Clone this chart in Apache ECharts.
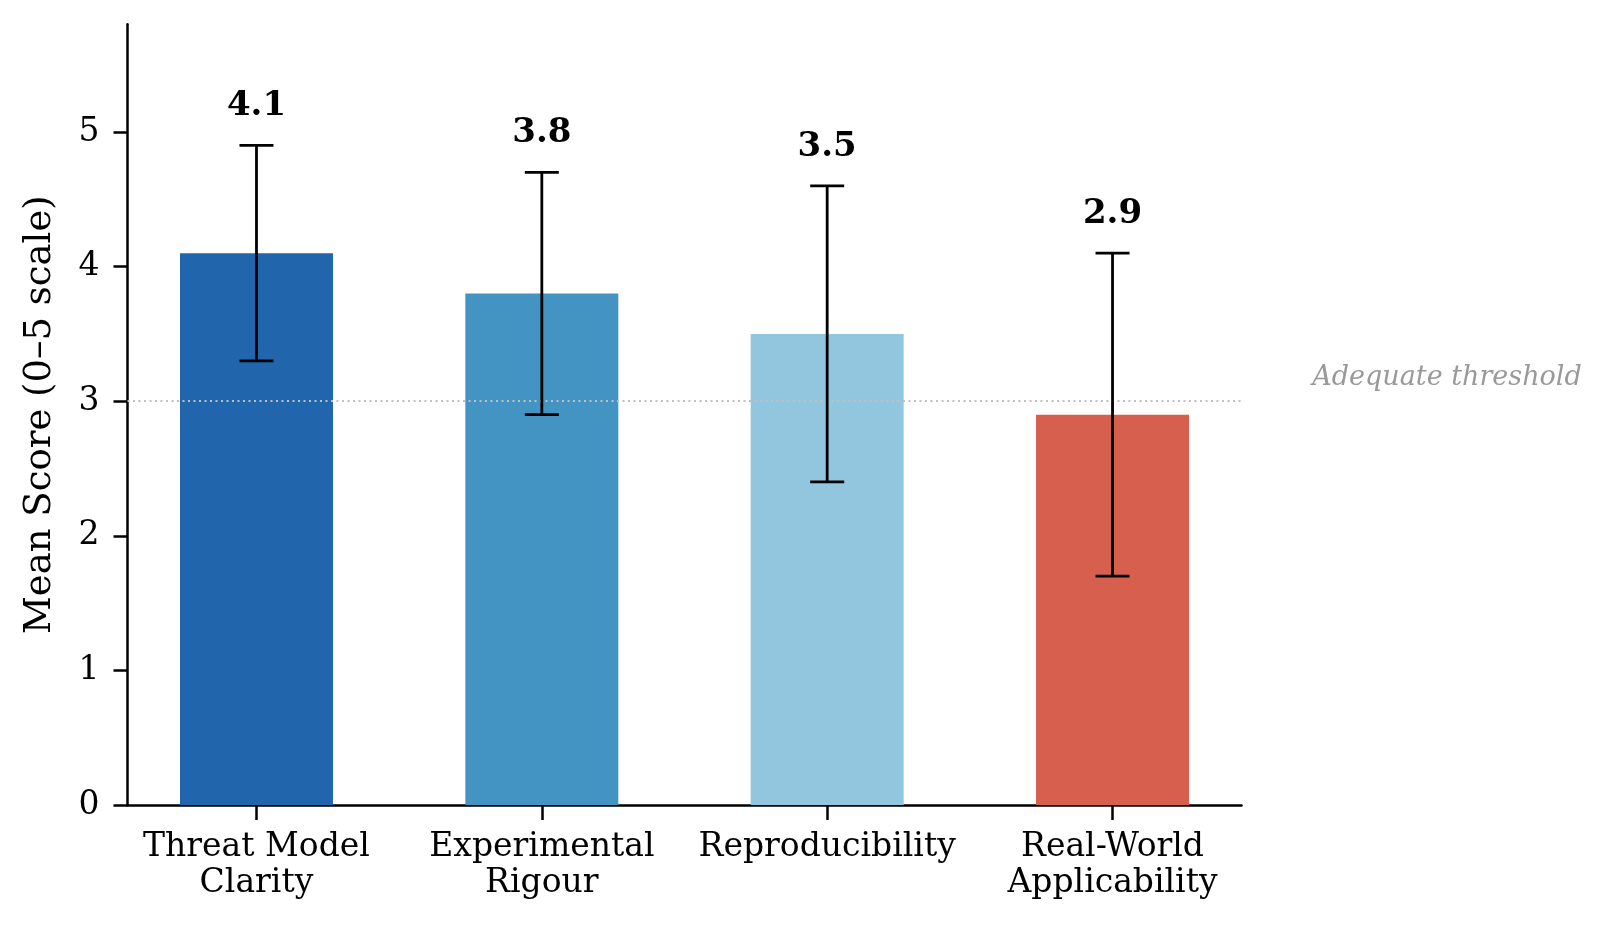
<!DOCTYPE html>
<html><head><meta charset="utf-8">
<script src="https://cdn.jsdelivr.net/npm/echarts@6/dist/echarts.min.js"></script>
<style>html,body{margin:0;padding:0;background:#fff}#c{width:1606px;height:927px}</style>
</head><body><div id="c"></div>
<script>
const categories = ['Threat Model\nClarity', 'Experimental\nRigour', 'Reproducibility', 'Real-World\nApplicability'];
const means = [4.1, 3.8, 3.5, 2.9];
const errors = [0.8, 0.9, 1.1, 1.2];
const colors = ['#2166ac', '#4393c3', '#92c5de', '#d6604d'];
const yTicks = [0, 1, 2, 3, 4, 5];
const threshold = 3;
const thresholdLabel = 'Adequate threshold';

const FONT = 'DejaVu Serif';
const chart = echarts.init(document.getElementById('c'));
const idx = categories.map((_, i) => i);

chart.setOption({
  animation: false,
  grid: { left: 127.5, right: 364.5, top: 24.3, bottom: 122 },
  xAxis: {
    type: 'value', min: -0.452, max: 3.452,
    splitLine: { show: false },
    axisLine: { show: true, onZero: false, lineStyle: { color: '#000', width: 2.5 } },
    axisTick: { show: true, customValues: idx, length: 15, lineStyle: { color: '#000', width: 2.5 } },
    axisLabel: { show: true, customValues: idx, formatter: v => categories[Math.round(v)],
      fontFamily: FONT, fontSize: 33, color: '#000', margin: 24, lineHeight: 36 }
  },
  yAxis: {
    type: 'value', min: 0, max: 5.8,
    axisLine: { show: true, onZero: false, lineStyle: { color: '#000', width: 2.5 } },
    axisTick: { show: true, customValues: yTicks, length: 14, lineStyle: { color: '#000', width: 2.5 } },
    axisLabel: { customValues: yTicks, fontFamily: FONT, fontSize: 33, color: '#000', margin: 28 },
    splitLine: { show: false },
    name: 'Mean Score (0–5 scale)', nameLocation: 'middle', nameGap: 69,
    nameTextStyle: { fontFamily: FONT, fontSize: 37, color: '#000' }
  },
  series: [
    {
      type: 'bar', barWidth: 153,
      data: means.map((m, i) => ({ value: [i, m], itemStyle: { color: colors[i] } })),
      z: 2
    },
    {
      type: 'line', data: [], z: 1,
      markLine: {
        silent: true, symbol: 'none',
        lineStyle: { type: [2, 3.5], color: '#c0c0c0', width: 2 },
        label: { show: false },
        data: [{ yAxis: threshold }]
      }
    },
    {
      type: 'custom', z: 5, clip: false,
      data: means.map((m, i) => [i, m - errors[i], m + errors[i], m]),
      renderItem: (params, api) => {
        const x = api.value(0);
        const lo = api.coord([x, api.value(1)]);
        const hi = api.coord([x, api.value(2)]);
        const cap = 17;
        const ls = { stroke: '#000', lineWidth: 2.8 };
        const lbl = api.coord([x, api.value(2) + 0.29]);
        return { type: 'group', children: [
          { type: 'line', shape: { x1: lo[0], y1: lo[1], x2: hi[0], y2: hi[1] }, style: ls },
          { type: 'line', shape: { x1: lo[0] - cap, y1: lo[1], x2: lo[0] + cap, y2: lo[1] }, style: ls },
          { type: 'line', shape: { x1: hi[0] - cap, y1: hi[1], x2: hi[0] + cap, y2: hi[1] }, style: ls },
          { type: 'text', x: lbl[0], y: lbl[1], style: { text: api.value(3).toFixed(1), fontFamily: FONT,
            fontWeight: 'bold', fontSize: 34, fill: '#000', align: 'center', verticalAlign: 'middle' } }
        ]};
      }
    },
    {
      type: 'custom', z: 5, clip: false,
      data: [[3.7, threshold + 0.17]],
      renderItem: (params, api) => {
        const p = api.coord([api.value(0), api.value(1)]);
        return { type: 'text', x: p[0], y: p[1], style: { text: thresholdLabel, fontFamily: FONT,
          fontStyle: 'italic', fontSize: 27, fill: '#999', align: 'left', verticalAlign: 'middle' } };
      }
    }
  ]
});
</script></body></html>
